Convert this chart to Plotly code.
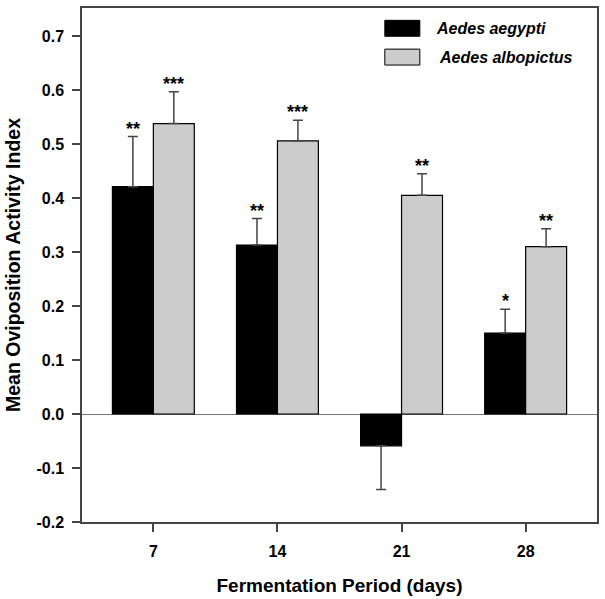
import plotly.graph_objects as go

categories = ["7", "14", "21", "28"]
series_names = ["Aedes aegypti", "Aedes albopictus"]
aegypti = [0.421, 0.313, -0.059, 0.150]
aegypti_err = [0.093, 0.049, 0.081, 0.044]
albopictus = [0.538, 0.506, 0.405, 0.310]
albopictus_err = [0.059, 0.038, 0.040, 0.033]
aegypti_sig = ["**", "**", "", "*"]
albopictus_sig = ["***", "***", "**", "**"]
y_ticks = [-0.2, -0.1, 0.0, 0.1, 0.2, 0.3, 0.4, 0.5, 0.6, 0.7]

xs = list(range(len(categories)))
W = 0.33
FONT = "Liberation Sans, Arial, sans-serif"

fig = go.Figure()

def add_series(vals, errs, color, offset, name):
    plus = [e if v >= 0 else 0 for v, e in zip(vals, errs)]
    minus = [e if v < 0 else 0 for v, e in zip(vals, errs)]
    fig.add_trace(go.Bar(
        x=xs, y=vals, width=W, offset=offset, name=name,
        marker=dict(color=color, line=dict(color="black", width=1.2)),
        error_y=dict(type="data", symmetric=False, array=plus, arrayminus=minus,
                     color="#444444", thickness=1.5, width=5),
        showlegend=False,
    ))

add_series(aegypti, aegypti_err, "black", -W, series_names[0])
add_series(albopictus, albopictus_err, "#cccccc", 0, series_names[1])

annotations = []
for i in xs:
    for vals, errs, sig, dx in ((aegypti, aegypti_err, aegypti_sig, -W / 2),
                                (albopictus, albopictus_err, albopictus_sig, W / 2)):
        if sig[i] and vals[i] >= 0:
            annotations.append(dict(x=i + dx, y=vals[i] + errs[i], text="<b>%s</b>" % sig[i],
                                    showarrow=False, yanchor="bottom", yshift=-4,
                                    font=dict(family=FONT, size=18, color="black")))

# custom legend
shapes = [
    dict(type="rect", xref="paper", yref="paper", x0=0.588, x1=0.656, y0=0.945, y1=0.976,
         fillcolor="black", line=dict(color="black", width=1)),
    dict(type="rect", xref="paper", yref="paper", x0=0.588, x1=0.656, y0=0.889, y1=0.920,
         fillcolor="#cccccc", line=dict(color="black", width=1)),
]
annotations.append(dict(xref="paper", yref="paper", x=0.683, y=0.9605, xanchor="left",
                        yanchor="middle", text="<b><i>Aedes aegypti</i></b>", showarrow=False,
                        font=dict(family=FONT, size=16, color="black")))
annotations.append(dict(xref="paper", yref="paper", x=0.690, y=0.9045, xanchor="left",
                        yanchor="middle", text="<b><i>Aedes albopictus</i></b>", showarrow=False,
                        font=dict(family=FONT, size=16, color="black")))

fig.update_layout(
    width=605, height=599,
    margin=dict(l=82, r=8, t=6, b=77),
    paper_bgcolor="white", plot_bgcolor="white",
    barmode="overlay",
    font=dict(family=FONT, color="black"),
    shapes=shapes, annotations=annotations,
)
fig.update_xaxes(
    range=[-0.575, 3.575], tickvals=xs, ticktext=["<b>%s</b>" % c for c in categories],
    ticks="outside", ticklen=8, tickcolor="#444444", tickwidth=1.5,
    showline=True, linecolor="#444444", linewidth=1.5, mirror=True,
    showgrid=False, zeroline=False, ticklabelstandoff=6,
    tickfont=dict(family=FONT, size=16, color="black"),
    title=dict(text="<b>Fermentation Period (days)</b>", font=dict(family=FONT, size=19, color="black"),
               standoff=20),
)
fig.update_yaxes(
    range=[-0.2, 0.752], tickvals=y_ticks, ticktext=["<b>%.1f</b>" % t for t in y_ticks],
    ticks="outside", ticklen=8, tickcolor="#444444", tickwidth=1.5,
    showline=True, linecolor="#444444", linewidth=1.5, mirror=True,
    showgrid=False, zeroline=True, zerolinecolor="#777777", zerolinewidth=1,
    ticklabelstandoff=5,
    tickfont=dict(family=FONT, size=16, color="black"),
    title=dict(text="<b>Mean Oviposition Activity Index</b>", font=dict(family=FONT, size=19.5, color="black"),
               standoff=11),
)

fig.write_html("out.html", config={"displayModeBar": False},
               post_script="document.body.style.margin='0';")
